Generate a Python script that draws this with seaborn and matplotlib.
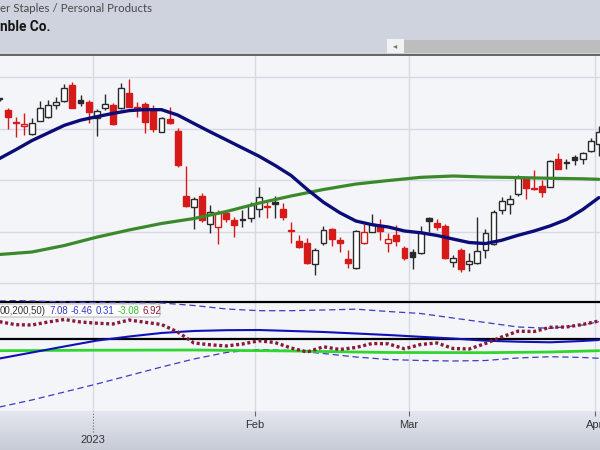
import numpy as np
import pandas as pd
import matplotlib
matplotlib.use("Agg")
import matplotlib.pyplot as plt
import seaborn as sns
from matplotlib.patches import Rectangle, FancyBboxPatch
from matplotlib.colors import LinearSegmentedColormap

# daily candles, x = trading day (0 = Jan 3 2023)
day = list(range(-12, 63))
open_ = [152.82, 151.80, 150.56, 150.24, 149.47, 150.76, 151.15, 152.28, 152.67, 154.22,
         152.77, 152.54, 150.99, 152.02, 152.28, 151.96, 153.48, 152.11, 152.35, 151.80,
         149.69, 150.89, 149.79, 143.48, 142.41, 143.48, 140.73, 140.47, 141.83, 141.12,
         141.14, 141.28, 142.16, 142.43, 142.83, 142.16, 140.10, 139.11, 138.85, 136.84,
         138.91, 140.21, 139.17, 137.30, 136.43, 138.85, 139.98, 140.47, 138.91, 139.66,
         138.37, 138.04, 137.88, 141.31, 140.85, 140.53, 137.07, 138.20, 136.84, 136.91,
         138.20, 138.79, 142.09, 142.64, 143.64, 145.07, 144.22, 144.42, 144.35, 147.01,
         146.65, 147.26, 147.01, 147.84, 148.50]
high = [152.96, 151.96, 151.15, 151.48, 150.99, 152.67, 152.77, 153.09, 154.29, 154.56,
        153.25, 152.77, 151.86, 153.35, 152.50, 154.39, 154.78, 152.60, 152.60, 152.28,
        151.15, 152.12, 150.02, 146.36, 143.38, 143.77, 142.57, 142.09, 142.09, 141.44,
        142.09, 142.89, 144.29, 142.89, 143.45, 142.74, 140.95, 139.66, 139.34, 138.37,
        140.53, 140.31, 139.50, 138.20, 140.15, 140.73, 141.70, 141.18, 139.83, 140.63,
        138.59, 138.30, 140.53, 141.44, 141.18, 140.73, 137.72, 138.37, 137.88, 141.44,
        140.21, 142.09, 143.38, 143.54, 145.49, 145.32, 145.97, 145.00, 146.99, 147.59,
        147.01, 147.43, 147.75, 149.05, 150.24]
low = [152.67, 149.95, 149.20, 149.37, 149.42, 150.73, 151.07, 151.86, 152.62, 151.96,
       152.18, 150.56, 149.27, 151.80, 150.34, 151.92, 152.06, 151.15, 149.53, 149.69,
       149.66, 150.47, 146.23, 142.41, 140.21, 140.95, 139.83, 138.79, 140.95, 139.44,
       140.47, 140.95, 141.44, 141.28, 141.28, 141.12, 138.85, 138.37, 136.84, 135.78,
       138.69, 138.59, 138.04, 136.49, 136.39, 138.79, 139.92, 139.17, 138.04, 138.59,
       137.23, 136.36, 137.82, 139.98, 140.15, 137.30, 136.52, 136.10, 136.19, 136.87,
       137.40, 138.69, 141.70, 141.70, 143.45, 143.13, 144.03, 143.32, 144.29, 146.04,
       146.04, 146.46, 146.55, 147.75, 147.33]
close = [152.84, 151.15, 150.60, 150.46, 150.50, 151.96, 152.28, 152.60, 153.90, 152.02,
         152.50, 151.63, 151.67, 152.35, 150.41, 153.90, 152.12, 151.96, 150.66, 149.92,
         150.99, 150.50, 146.46, 142.48, 143.13, 141.12, 141.92, 141.83, 141.18, 140.63,
         141.10, 142.57, 143.32, 142.39, 142.64, 141.44, 140.06, 138.52, 136.91, 138.20,
         140.15, 139.24, 138.91, 136.91, 140.08, 139.98, 140.73, 140.08, 139.27, 139.11,
         137.40, 137.55, 139.98, 141.05, 140.41, 137.40, 137.46, 136.33, 137.14, 138.11,
         139.88, 141.92, 142.99, 143.13, 145.17, 144.19, 144.13, 143.86, 146.87, 146.10,
         146.61, 146.94, 147.59, 148.82, 149.69]

# moving averages
ma_fast_day = list(range(-12, 63, 2))
ma_fast = [147.09, 147.94, 148.83, 149.57, 150.31, 150.81, 151.15, 151.47, 151.74, 151.84,
           151.83, 151.31, 150.49, 149.68, 148.90, 148.11, 147.33, 146.43, 145.44, 144.08,
           142.84, 141.83, 141.02, 140.66, 140.44, 140.05, 139.88, 139.62, 139.27, 138.93,
           138.83, 139.15, 139.63, 140.05, 140.55, 141.17, 142.13, 143.29]
ma_slow_day = list(range(-12, 63, 4)) + [62]
ma_slow = [137.77, 138.01, 138.64, 139.45, 140.15, 140.78, 141.26, 141.94, 142.75, 143.45,
           144.08, 144.61, 144.95, 145.26, 145.39, 145.29, 145.24, 145.17, 145.12, 145.07]

# lower indicator
ind_day = list(range(-12, 63, 4)) + [62]
ind_upper = [10.45, 10.19, 9.92, 9.79, 9.73, 9.65, 8.99, 8.06, 7.61, 7.61,
             7.79, 8.01, 7.39, 6.86, 5.66, 4.47, 3.27, 2.93, 3.80, 4.68]
ind_lower = [-18.01, -16.14, -14.02, -11.89, -9.63, -7.37, -5.24, -3.51, -2.71, -2.98,
             -3.78, -4.71, -5.37, -5.64, -5.77, -5.64, -4.97, -4.63, -4.84, -5.05]
ind_main = [-5.11, -3.51, -1.91, -0.35, 0.74, 1.68, 2.21, 2.42, 2.47, 2.21,
            1.94, 1.54, 1.14, 0.66, 0.21, -0.37, -0.64, -0.80, -0.45, -0.19]
ind_base_day = [-12, 0, 12, 24, 36, 48, 56, 62]
ind_base = [-3.03, -2.90, -2.85, -3.11, -3.51, -3.56, -3.38, -3.03]
ind_dot_day = list(range(-12, 63, 2))
ind_dot = [4.68, 3.88, 3.80, 4.60, 5.27, 4.60, 4.28, 4.07, 5.13, 4.52,
           3.94, 1.94, -0.98, -1.46, -1.78, -1.25, -0.40, -0.85, -2.31, -3.38,
           -1.99, -2.71, -2.18, -1.12, -1.20, -2.53, -1.38, -0.98, -2.45, -2.58,
           -1.12, 0.61, 2.15, 2.07, 3.19, 3.27, 3.94, 4.87]
ind_levels = [10, 0]

month_pos = [-0.5, 19.5, 38.5, 61.5]
month_labels = ["2023", "Feb", "Mar", "Apr"]
legend_parts = ["00,200,50)", "7.08", "-6.46", "0.31", "-3.08", "6.92"]

BG = "#f4f5f9"
GRID = "#d7dae2"
RED = "#d61a1a"
BLK = "#2a2a2a"

sns.set_style("white")
plt.rcParams["font.family"] = ["Liberation Sans", "DejaVu Sans"]

fig = plt.figure(figsize=(6, 4.5), dpi=100)
fig.patch.set_facecolor("#ced3de")

W, H = 600, 450
xlim = (-11.94, 62.14)

def rect(top, bottom):
    return [0, 1 - bottom / H, 1, (bottom - top) / H]

# price panel
ax = fig.add_axes(rect(55, 300))
ax.set_facecolor(BG)
ax.set_xlim(*xlim)
ax.set_ylim(133.35, 157.14)
ax.set_xticks(month_pos)
ax.set_yticks([135, 140, 145, 150, 155])
ax.grid(True, color=GRID, lw=1)
ax.tick_params(length=0, labelbottom=False, labelleft=False)
for s in ["left", "right", "bottom"]:
    ax.spines[s].set_visible(False)
ax.spines["top"].set_color("#5a5a5a")
ax.spines["top"].set_linewidth(1.3)

df = pd.DataFrame({"day": day, "open": open_, "high": high, "low": low, "close": close})
prev = df["close"].shift(1).fillna(df["open"])
col = np.where(df["close"] >= prev, BLK, RED)
hollow = df["close"] > df["open"]
body_lo = df[["open", "close"]].min(axis=1)
body_h = (df["close"] - df["open"]).abs().clip(lower=0.1)

ax.vlines(df["day"], df["low"], df["high"], colors=col, lw=1, zorder=3)
ax.bar(df["day"], body_h, bottom=body_lo, width=0.72,
       color=np.where(hollow, "white", col), edgecolor=col, linewidth=1, zorder=4)

sns.lineplot(x=ma_slow_day, y=ma_slow, ax=ax, color="#3a8a2c", lw=2.3, zorder=5)
sns.lineplot(x=ma_fast_day, y=ma_fast, ax=ax, color="#0c0c78", lw=2.4, zorder=5)

# indicator panel
ax2 = fig.add_axes(rect(300, 411))
ax2.set_facecolor(BG)
ax2.set_xlim(*xlim)
ax2.set_ylim(-19.07, 10.45)
ax2.set_xticks(month_pos)
ax2.set_yticks([])
ax2.grid(True, axis="x", color=GRID, lw=1)
ax2.tick_params(length=0, labelbottom=False, labelleft=False)
sns.despine(ax=ax2, left=True, bottom=True, top=True, right=True)
for lv in ind_levels:
    ax2.axhline(lv, color="black", lw=1.6, zorder=2)

sns.lineplot(x=ind_day, y=ind_upper, ax=ax2, color="#3c3cc0", lw=0.9, linestyle=(0, (5, 3)))
sns.lineplot(x=ind_day, y=ind_lower, ax=ax2, color="#3c3cc0", lw=0.9, linestyle=(0, (5, 3)))
sns.lineplot(x=ind_base_day, y=ind_base, ax=ax2, color="#2fd62f", lw=2)
sns.lineplot(x=ind_day, y=ind_main, ax=ax2, color="#1010b8", lw=1.5)
sns.lineplot(x=ind_dot_day, y=ind_dot, ax=ax2, color="#8a1838", lw=2.4,
             linestyle=(0, (0.9, 0.8)))

# date strip
ax3 = fig.add_axes(rect(411, 450))
ax3.set_xlim(*xlim)
ax3.set_ylim(0, 1)
grad = LinearSegmentedColormap.from_list("strip", ["#c6cbd6", "#e4e7ee"])
ax3.imshow(np.linspace(0, 1, 64).reshape(-1, 1), cmap=grad, aspect="auto",
           extent=(xlim[0], xlim[1], 0, 1), origin="lower")
ax3.axis("off")
for pos, lab in zip(month_pos, month_labels):
    if lab.isdigit():
        ax3.vlines(pos, 0.46, 1, colors="#666666", lw=0.8, linestyles=":")
        ax3.text(pos, 0.26, lab, ha="center", va="center", fontsize=8, color="#333333")
    else:
        ax3.vlines(pos, 0.86, 1, colors="#666666", lw=0.8)
        ax3.text(pos, 0.64, lab, ha="center", va="center", fontsize=8, color="#333333")

# header
fig.text(0, 1 - 8.5 / H, "er Staples / Personal Products", ha="left", va="center",
         fontsize=8.3, color="#4a4a4a", family="Lato")
fig.text(0, 1 - 27 / H, "nble Co.", ha="left", va="center",
         fontsize=9.8, color="#151515", family="Roboto", weight="bold")
fig.patches.append(Rectangle((387 / W, 1 - 53 / H), 17 / W, 14 / H, transform=fig.transFigure,
                             facecolor="#f2f2f2", edgecolor="none"))
fig.patches.append(Rectangle((404 / W, 1 - 53 / H), 196 / W, 13 / H, transform=fig.transFigure,
                             facecolor="#bdbdbd", edgecolor="none"))
fig.text(395 / W, 1 - 46 / H, "\u25c2", ha="center", va="center", fontsize=6, color="#777777",
         family="DejaVu Sans")

# indicator legend box, parts laid out one after another
fig.patches.append(FancyBboxPatch((-4 / W, 1 - 317 / H), 164 / W, 13 / H,
                                  boxstyle="round,pad=0,rounding_size=0.004",
                                  transform=fig.transFigure, fc="white", ec="#b5b5b5", lw=0.7))
leg_c = ["#333333", "#3535c8", "#3535c8", "#3535c8", "#2ec02e", "#8a1838"]
renderer = fig.canvas.get_renderer()
px = 0.0
for txt, c in zip(legend_parts, leg_c):
    t = fig.text(px / W, 1 - 310.5 / H, txt, ha="left", va="center", fontsize=6.9, color=c)
    px = t.get_window_extent(renderer).x1 + 3

fig.savefig("out.png", dpi=100, facecolor=fig.get_facecolor())
